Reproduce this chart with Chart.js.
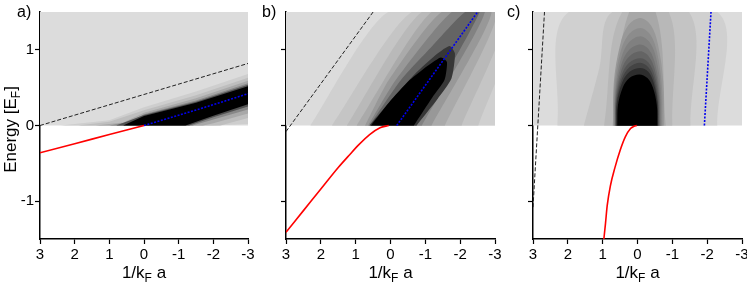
<!DOCTYPE html>
<html>
<head>
<meta charset="utf-8">
<script src="https://cdn.jsdelivr.net/npm/chart.js@4.4.1/dist/chart.umd.min.js"></script>
<style>
  body { margin: 0; background: #fff; }
  #wrap { position: relative; width: 747px; height: 287px; overflow: hidden; }
  canvas { position: absolute; top: 0; }
</style>
</head>
<body>
<div id="wrap">
  <canvas id="pa" width="262" height="287" style="left:0"></canvas>
  <canvas id="pb" width="262" height="287" style="left:250px"></canvas>
  <canvas id="pc" width="247" height="287" style="left:500px"></canvas>
</div>
<script>
// axis ticks shared by all panels
var xTicks = [3, 2, 1, 0, -1, -2, -3];
var yTicks = [-1, 0, 1];

// panel a)
var aRed = [[0, 0], [1, -0.12], [2, -0.24], [3, -0.36]];
var aBlue = [[0, 0], [-1, 0.135], [-2, 0.275], [-3, 0.42]];
var aDash = [[3, 0], [-3, 0.82]];
var aBands = [
  [[3, 0], [3, 1.5], [-3, 1.5], [-3, 0]],
  [[2.4, 0], [1.0, 0.07], [0, 0.24], [-1.5, 0.45], [-3, 0.68], [-3, 0.02], [-2.0, 0]],
  [[1.9, 0], [1.0, 0.05], [0, 0.2], [-1.5, 0.4], [-3, 0.63], [-3, 0.1], [-2.2, 0]],
  [[1.4, 0], [0.6, 0.04], [0, 0.17], [-1.5, 0.36], [-3, 0.59], [-3, 0.16], [-2.0, 0.03], [-1.7, 0]],
  [[1.0, 0], [0.4, 0.05], [0, 0.15], [-1.5, 0.33], [-3, 0.56], [-3, 0.21], [-2.0, 0.08], [-1.4, 0]],
  [[0.8, 0], [0, 0.14], [-1.5, 0.315], [-3, 0.54], [-3, 0.25], [-2, 0.11], [-1.3, 0]],
  [[0.6, 0], [0, 0.125], [-1.5, 0.30], [-3, 0.52], [-3, 0.28], [-2, 0.13], [-1.2, 0]]
];
var aGrays = [220, 206, 190, 168, 135, 80, 0];

// panel b)
var bRed = [[0.05, 0], [0.3, -0.03], [0.6, -0.12], [0.9, -0.25], [1.2, -0.4], [1.5, -0.555], [2.0, -0.84], [2.5, -1.125], [3, -1.41]];
var bBlue = [[-0.18, 0], [-2.5, 1.5]];
var bDash = [[3, -0.08], [0.5, 1.5]];
var bBands = [
  [[3, 0], [3, 1.5], [-3, 1.5], [-3, 0]],
  [[2.30, 0], [0.06, 1.5], [-4.0, 1.5], [-3.3, 0]],
  [[1.68, 0], [-0.61, 1.5], [-3.6, 1.5], [-2.52, 0]],
  [[1.25, 0], [-0.90, 1.5], [-3.3, 1.5], [-2.04, 0]],
  [[0.97, 0], [-1.18, 1.5], [-3.05, 1.5], [-1.56, 0]],
  [[0.73, 0], [0.05, 0.6], [-1.47, 1.5], [-2.90, 1.5], [-1.18, 0]],
  [[0.64, 0], [-0.15, 0.6], [-1.76, 1.5], [-2.71, 1.5], [-0.90, 0]],
  [[0.6, 0], [-0.3, 0.6], [-1.2, 1.05], [-2.14, 1.5], [-2.56, 1.5], [-0.75, 0]],
  [[0.6, 0], [-0.05, 0.35], [-0.7, 0.68], [-1.35, 0.95], [-1.7, 1.05], [-1.85, 0.95], [-1.75, 0.62], [-1.35, 0.35], [-0.75, 0]],
  [[0.56, 0], [0.05, 0.3], [-0.55, 0.6], [-1.1, 0.8], [-1.45, 0.9], [-1.62, 0.84], [-1.55, 0.6], [-1.2, 0.37], [-0.67, 0]]
];
var bGrays = [220, 208, 197, 185, 170, 152, 130, 100, 55, 0];

// panel c)
var cRed = [[0.02, 0], [0.1, -0.01], [0.2, -0.04], [0.35, -0.15], [0.5, -0.33], [0.65, -0.56], [0.78, -0.8], [0.87, -1.06], [0.92, -1.3], [0.97, -1.52]];
var cBlue = [[-1.92, 0], [-2.11, 1.5]];
var cDash = [[3, -1.08], [2.67, 1.5]];
var cBands = [
  [[3, 0], [3, 1.5], [-3, 1.5], [-3, 0]],
  [[2.30, 0], [1.97, 1.5], [-2.29, 1.5], [-2.29, 0]],
  [[1.54, 0], [1.1, 0.75], [0.72, 1.5], [-1.48, 1.5], [-1.52, 0]],
  [[0.96, 0], [0.44, 1.5], [-0.9, 1.5], [-1.0, 0]],
  [[0.72, 0], [0.24, 1.5], [-0.52, 1.5], [-0.81, 0]],
  [[0.70, 0], [0.68, 0.57], [0.5, 1.065], [0.27, 1.32], [-0.08, 1.42], [-0.39, 1.32], [-0.59, 1.065], [-0.74, 0.57], [-0.76, 0]],
  [[0.68, 0], [0.66, 0.52], [0.49, 0.97], [0.26, 1.2], [-0.08, 1.29], [-0.37, 1.2], [-0.56, 0.97], [-0.70, 0.52], [-0.72, 0]],
  [[0.66, 0], [0.64, 0.47], [0.475, 0.885], [0.25, 1.097], [-0.08, 1.18], [-0.355, 1.097], [-0.54, 0.885], [-0.67, 0.47], [-0.69, 0]],
  [[0.65, 0], [0.63, 0.43], [0.47, 0.8], [0.25, 0.995], [-0.08, 1.07], [-0.34, 0.995], [-0.515, 0.8], [-0.64, 0.43], [-0.66, 0]],
  [[0.64, 0], [0.62, 0.39], [0.46, 0.735], [0.244, 0.91], [-0.08, 0.98], [-0.33, 0.91], [-0.5, 0.735], [-0.62, 0.39], [-0.64, 0]],
  [[0.63, 0], [0.61, 0.36], [0.453, 0.67], [0.24, 0.83], [-0.08, 0.89], [-0.32, 0.83], [-0.485, 0.67], [-0.6, 0.36], [-0.62, 0]],
  [[0.62, 0], [0.6, 0.33], [0.445, 0.62], [0.235, 0.77], [-0.08, 0.83], [-0.31, 0.77], [-0.47, 0.62], [-0.58, 0.33], [-0.6, 0]],
  [[0.61, 0], [0.59, 0.3], [0.438, 0.57], [0.23, 0.71], [-0.08, 0.76], [-0.31, 0.71], [-0.46, 0.57], [-0.575, 0.3], [-0.59, 0]],
  [[0.58, 0], [0.56, 0.27], [0.42, 0.506], [0.234, 0.628], [-0.05, 0.675], [-0.284, 0.628], [-0.44, 0.506], [-0.554, 0.27], [-0.57, 0]]
];
var cGrays = [220, 208, 196, 184, 168, 152, 140, 128, 115, 100, 85, 68, 45, 0];

var FONT = '"Liberation Sans", Arial, sans-serif';

function pts(a) {
  return a.map(function (p) { return {x: p[0], y: p[1]}; });
}

function lineSet(data, color, width, dash, smooth) {
  return {
    data: pts(data), borderColor: color, borderWidth: width, borderDash: dash,
    pointRadius: 0, fill: false, order: 0,
    cubicInterpolationMode: smooth ? 'monotone' : 'default', tension: 0
  };
}

function bandSets(bands, grays, tension) {
  return bands.map(function (poly, i) {
    var g = grays[i];
    return {
      data: pts(poly), fill: 'shape', backgroundColor: 'rgb(' + g + ',' + g + ',' + g + ')',
      borderColor: 'rgba(0,0,0,0)', borderWidth: 0, pointRadius: 0,
      tension: tension, order: 100 - i
    };
  });
}

function partsWidth(ctx, parts) {
  var w = 0;
  parts.forEach(function (p) { ctx.font = p[1] + 'px ' + FONT; w += ctx.measureText(p[0]).width; });
  return w;
}

function drawParts(ctx, parts, x, y) {
  parts.forEach(function (p) {
    ctx.font = p[1] + 'px ' + FONT;
    ctx.fillText(p[0], x, y + p[2]);
    x += ctx.measureText(p[0]).width;
  });
}

var textPlugin = {
  id: 'panelText',
  afterDraw: function (chart, args, opts) {
    var ctx = chart.ctx, ca = chart.chartArea;
    ctx.save();
    ctx.fillStyle = '#000';
    ctx.textBaseline = 'alphabetic';
    ctx.textAlign = 'left';
    ctx.font = '16px ' + FONT;
    ctx.fillText(opts.tag, opts.tagX, 17);
    var xt = [['1/k', 17, 0], ['F', 12, 4], [' a', 17, 0]];
    drawParts(ctx, xt, (ca.left + ca.right) / 2 - partsWidth(ctx, xt) / 2, 278);
    if (opts.yTitle) {
      var yt = [['Energy [E', 17, 0], ['F', 12, 4], [']', 17, 0]];
      var wy = partsWidth(ctx, yt);
      ctx.translate(15.5, 129.5);
      ctx.rotate(-Math.PI / 2);
      drawParts(ctx, yt, -wy / 2, 0);
    }
    ctx.restore();
  }
};

function makePanel(id, lines, bands, grays, bandTension, axisWidth, padRight, tag, tagX, showY) {
  var datasets = lines.concat(bandSets(bands, grays, bandTension));
  return new Chart(document.getElementById(id), {
    type: 'line',
    data: {datasets: datasets},
    options: {
      responsive: false,
      animation: false,
      layout: {padding: {left: 0, right: padRight, top: 12, bottom: 0}},
      plugins: {
        legend: {display: false},
        tooltip: {enabled: false},
        panelText: {tag: tag, tagX: tagX, yTitle: showY}
      },
      scales: {
        x: {
          type: 'linear', reverse: true, min: -3, max: 3, z: 1,
          afterBuildTicks: function (s) { s.ticks = xTicks.map(function (v) { return {value: v}; }); },
          afterFit: function (s) { s.height = 48; s.paddingLeft = 0; s.paddingRight = 0; },
          grid: {drawOnChartArea: false, tickLength: 5, tickColor: '#000', tickWidth: 1.2},
          border: {color: '#000', width: 1.5},
          ticks: {
            font: {family: FONT, size: 15}, color: '#000', padding: 2,
            maxRotation: 0, autoSkip: false,
            callback: function (v) { return String(v); }
          }
        },
        y: {
          type: 'linear', min: -1.5, max: 1.5, z: 1,
          afterBuildTicks: function (s) { s.ticks = yTicks.map(function (v) { return {value: v}; }); },
          afterFit: function (s) { s.width = axisWidth; },
          grid: {drawOnChartArea: false, tickLength: 5, tickColor: '#000', tickWidth: 1.2},
          border: {color: '#000', width: 1.5},
          ticks: {
            font: {family: FONT, size: 15}, color: '#000', padding: 1,
            callback: function (v) { return showY ? String(v) : ''; }
          }
        }
      }
    },
    plugins: [textPlugin]
  });
}

function panelLines(red, blue, dash) {
  return [
    lineSet(red, '#ff0000', 1.6, [], true),
    lineSet(blue, '#0000ee', 1.6, [2, 1.5], false),
    lineSet(dash, '#222222', 1, [4, 2], false)
  ];
}

makePanel('pa', panelLines(aRed, aBlue, aDash), aBands, aGrays, 0, 40, 14, 'a)', 17, true);
makePanel('pb', panelLines(bRed, bBlue, bDash), bBands, bGrays, 0.2, 36, 17, 'b)', 12, false);
makePanel('pc', panelLines(cRed, cBlue, cDash), cBands, cGrays, 0.35, 33, 5, 'c)', 7, false);
</script>
</body>
</html>
